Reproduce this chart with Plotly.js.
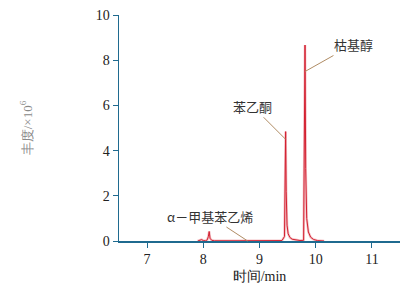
<!DOCTYPE html>
<html><head><meta charset="utf-8">
<script src="https://cdn.plot.ly/plotly-3.0.1.min.js"></script>
<style>body{margin:0}#c{width:408px;height:289px}</style>
</head><body><div id="c"></div>
<script>
const timeMin = [7.90,7.94,7.97,8.00,8.04,8.07,8.09,8.105,8.12,8.15,8.20,8.60,9.00,9.40,9.445,9.455,9.465,9.475,9.49,9.51,9.54,9.58,9.64,9.72,9.785,9.798,9.810,9.822,9.84,9.87,9.91,9.96,10.03,10.15];
const abundance = [0.00,0.03,0.06,0.02,0.01,0.05,0.20,0.42,0.12,0.03,0.01,0.01,0.01,0.02,0.20,2.50,4.84,2.20,0.70,0.32,0.16,0.08,0.04,0.02,0.03,3.50,8.67,3.20,1.00,0.40,0.17,0.07,0.02,0.00];
const labels = ["枯基醇","苯乙酮","α－甲基苯乙烯"];
const labelX = [9.81,9.465,8.79];
const labelY = [7.50,4.50,0.00];
const xTicks = [7,8,9,10,11];
const yTicks = [0,2,4,6,8,10];

const axisColor = "#1f6a8f";
const fontFam = "Liberation Serif";
const offsets = [[48,-27],[-33,-33],[-38,-25]];

const traces = [
  {x: timeMin, y: abundance, mode: "lines", line: {color: "rgba(236,160,168,0.65)", width: 2.5}, hoverinfo: "skip"},
  {x: timeMin, y: abundance, mode: "lines", line: {color: "#d42030", width: 1}}
];
const layout = {
  width: 408, height: 289,
  margin: {l: 119, r: 8, t: 15, b: 48},
  paper_bgcolor: "#fff", plot_bgcolor: "#fff",
  showlegend: false,
  font: {family: fontFam, size: 14, color: "#222"},
  xaxis: {range: [6.5, 11.5], tickvals: xTicks, ticks: "outside", ticklen: 5, tickcolor: axisColor,
    tickfont: {family: fontFam, size: 14, color: "#222"},
    showline: true, linecolor: axisColor, linewidth: 1.5, showgrid: false, zeroline: false,
    title: {text: "时间/min", font: {size: 14, color: "#222", family: fontFam}, standoff: 5}},
  yaxis: {range: [0, 10], tickvals: yTicks, ticks: "outside", ticklen: 5, tickcolor: axisColor,
    tickfont: {family: fontFam, size: 14, color: "#222"},
    showline: true, linecolor: axisColor, linewidth: 1.5, showgrid: false, zeroline: false,
    title: {text: "丰度/×10<sup>6</sup>", font: {size: 13, color: "#888", family: fontFam}, standoff: 60}},
  annotations: labels.map((t, i) => ({
    x: labelX[i], y: labelY[i], xref: "x", yref: "y", text: t,
    showarrow: true, arrowhead: 0, arrowwidth: 1, arrowcolor: "#b08c64",
    ax: offsets[i][0], ay: offsets[i][1],
    font: {family: "Noto Sans CJK SC", size: 13, color: "#333"}
  }))
};
Plotly.newPlot("c", traces, layout, {displayModeBar: false, staticPlot: true});
</script></body></html>
